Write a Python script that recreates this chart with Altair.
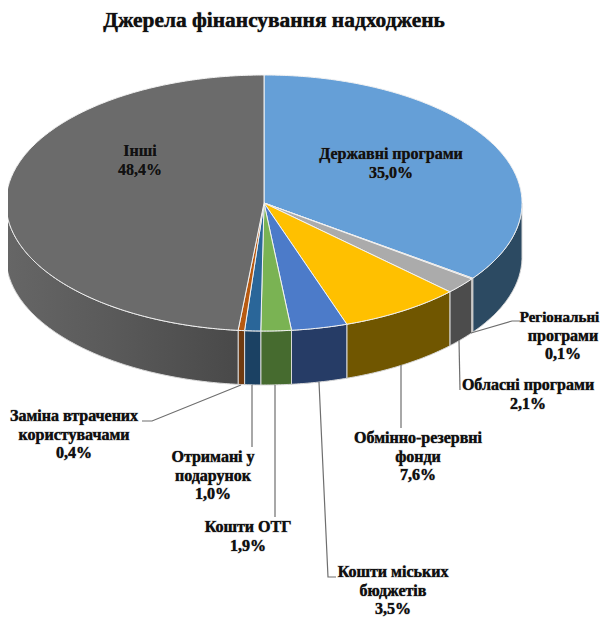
import math
import altair as alt
import pandas as pd

# ---- chart values ----
categories = ["Державні програми", "Регіональні програми", "Обласні програми",
              "Обмінно-резервні фонди", "Кошти міських бюджетів", "Кошти ОТГ",
              "Отримані у подарунок", "Заміна втрачених користувачами", "Інші"]
shares = [35.0, 0.1, 2.1, 7.6, 3.5, 1.9, 1.0, 0.4, 48.4]
top_colors = ["#659FD7", "#8C5A2B", "#ABABAB", "#FFC000", "#4C7BC9", "#7AB353",
              "#2A6699", "#B85A10", "#6B6B6B"]
wall_colors = ["#2C4A62", "#3E2A16", "#4C4C4C", "#705600", "#263C66", "#466B2F",
               "#1B4163", "#6F3A10", "#555555"]
label_lines = [["Державні програми", "35,0%"], ["програми", "0,1%"],
               ["Обласні програми", "2,1%"], ["Обмінно-резервні", "фонди", "7,6%"],
               ["Кошти міських", "бюджетів", "3,5%"], ["Кошти ОТГ", "1,9%"],
               ["Отримані у", "подарунок", "1,0%"],
               ["Заміна втрачених", "користувачами", "0,4%"], ["Інші", "48,4%"]]
edge_label = "Регіональні"
title_text = "Джерела фінансування надходжень"

# ---- layout (picture pixels) ----
CX, CY, RX, RY, DEPTH = 264.0, 203.0, 258.0, 128.0, 54.0
W, H = 592, 609
FONT = "Liberation Serif"
label_anchor = [(391, 154), (563, 335.5), (528, 385), (418, 438), (393, 572),
                (248, 527), (213, 457), (74, 416), (140, 151)]
leaders = [None,
           [(471, 333), (512, 321), (520, 321)],
           [(459, 340), (460, 390)],
           [(401, 365), (401, 428)],
           [(319, 382), (328, 577), (336, 577)],
           [(275, 385), (275, 517)],
           [(252, 385), (252, 447)],
           [(241, 385), (152, 421), (142, 421)],
           None]

x_scale = alt.Scale(domain=[8, 8 + W], range=[0, W])
y_scale = alt.Scale(domain=[8, 8 + H], range=[0, H])
X = alt.X("x:Q", scale=x_scale, axis=None)
Y = alt.Y("y:Q", scale=y_scale, axis=None)


def pt(t, dy=0.0):
    return CX + RX * math.sin(t), CY - RY * math.cos(t) + dy


def arc(a, b, dy=0.0):
    n = max(2, int(abs(b - a) / 0.01))
    return [pt(a + (b - a) * i / n, dy) for i in range(n + 1)]


def poly(points, **mark):
    df = pd.DataFrame(points, columns=["x", "y"])
    df["i"] = range(len(df))
    return alt.Chart(df).mark_line(interpolate="linear-closed", clip=True, **mark).encode(
        x=X, y=Y, order=alt.Order("i:Q"))


layers = []
tops = []
pos = 0.0
for share, top, wall in zip(shares, top_colors, wall_colors):
    a = pos / 100 * 2 * math.pi
    pos += share
    b = pos / 100 * 2 * math.pi
    tops.append(poly([(CX, CY)] + arc(a, b), fill=top, stroke="#F2F2F2", strokeWidth=1))
    lo, hi = max(a, math.pi / 2), min(b, 3 * math.pi / 2)
    if hi > lo:
        pts = arc(lo, hi) + arc(hi, lo, DEPTH)
        if share > 40:
            fill = alt.LinearGradient(gradient="linear", x1=0, x2=1, y1=0, y2=0, stops=[
                alt.GradientStop(color="#666666", offset=0),
                alt.GradientStop(color="#5A5A5A", offset=0.45),
                alt.GradientStop(color="#494949", offset=1)])
        else:
            fill = wall
        layers.append(poly(pts, fill=fill, stroke="#D9D9D9", strokeWidth=1))
layers += tops

for line in leaders:
    if line:
        df = pd.DataFrame(line, columns=["x", "y"])
        df["i"] = range(len(df))
        layers.append(alt.Chart(df).mark_line(color="#6E6E6E", strokeWidth=1.2).encode(
            x=X, y=Y, order=alt.Order("i:Q")))

rows = []
for lines, (lx, ly) in zip(label_lines, label_anchor):
    for j, s in enumerate(lines):
        rows.append({"x": lx, "y": ly + j * 18.5, "t": s})
labels = pd.DataFrame(rows)
edge_df = pd.DataFrame([{"x": 559.5, "y": 317, "t": edge_label}])
title_df = pd.DataFrame([{"x": 274, "y": 21, "t": title_text}])


def text_layer(df, size):
    base = dict(font=FONT, fontWeight="bold", fontSize=size, baseline="middle", align="center")
    halo = alt.Chart(df).mark_text(stroke="#777777", strokeWidth=1.4, strokeOpacity=0.3,
                                   color="#111111", **base).encode(x=X, y=Y, text="t:N")
    ink = alt.Chart(df).mark_text(color="#111111", **base).encode(x=X, y=Y, text="t:N")
    return [halo, ink]


layers += text_layer(labels, 16)
layers += text_layer(edge_df, 15)
layers += text_layer(title_df, 21.4)

chart = alt.layer(*layers).properties(width=W, height=H, padding=0,
                                      autosize=alt.AutoSizeParams(type="none")
                                      ).configure_view(stroke=None)
chart.save("out.html", embed_options={"renderer": "svg", "actions": False})
